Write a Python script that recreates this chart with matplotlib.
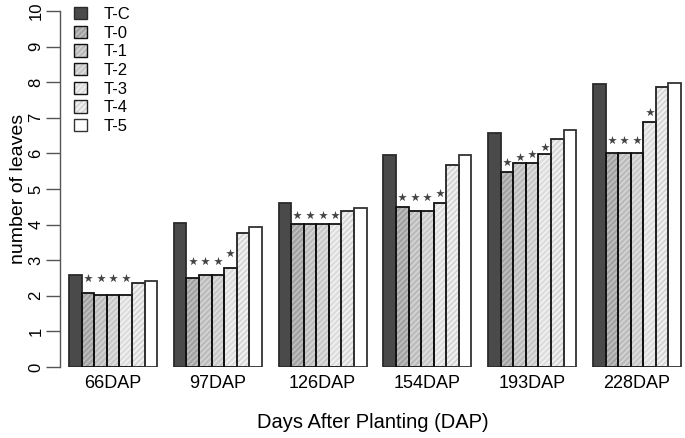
import matplotlib
matplotlib.use("Agg")
import matplotlib.pyplot as plt
from matplotlib.patches import Patch
from matplotlib.legend_handler import HandlerTuple
import numpy as np

plt.rcParams['font.family'] = ['Liberation Sans', 'DejaVu Sans']

groups = ["66DAP", "97DAP", "126DAP", "154DAP", "193DAP", "228DAP"]
treatments = ["T-C", "T-0", "T-1", "T-2", "T-3", "T-4", "T-5"]
t_c = [2.58, 4.05, 4.62, 5.96, 6.56, 7.96]
t_0 = [2.09, 2.50, 4.01, 4.49, 5.47, 6.00]
t_1 = [2.01, 2.59, 4.01, 4.38, 5.74, 6.00]
t_2 = [2.01, 2.59, 4.01, 4.38, 5.74, 6.00]
t_3 = [2.01, 2.78, 4.01, 4.61, 5.97, 6.89]
t_4 = [2.35, 3.77, 4.39, 5.68, 6.41, 7.87]
t_5 = [2.42, 3.94, 4.46, 5.95, 6.66, 7.99]
series = [t_c, t_0, t_1, t_2, t_3, t_4, t_5]

# significance stars above T-0..T-3 (heights)
star_levels = [
    [2.50, 2.50, 2.50, 2.50],
    [2.98, 2.98, 2.98, 3.20],
    [4.28, 4.28, 4.28, 4.28],
    [4.78, 4.78, 4.78, 4.88],
    [5.77, 5.90, 5.98, 6.19],
    [6.38, 6.38, 6.38, 7.17],
]

fills = ['#4a4a4a', '#a2a2a2', '#bcbcbc', '#c8c8c8', '#dddddd', '#efefef', '#ffffff']
hatch_cols = [None, '#c4c4c4', '#d8d8d8', '#e2e2e2', '#f4f4f4', '#cfcfcf', None]
edges = ['#2a2a2a', '#111111', '#111111', '#111111', '#111111', '#222222', '#333333']
HATCH = '//////'

fig = plt.figure(figsize=(6.85, 4.38), dpi=100)
ax = fig.add_axes([60/685, 1-367/438, 625/685, 356/438])

n = len(treatments)
gap = 1.33
period = n + gap
x0 = np.arange(len(groups)) * period

for i in range(n):
    xs = x0 + i + 0.5
    ax.bar(xs, series[i], width=1.0, color=fills[i], edgecolor='none', linewidth=0, zorder=1)
    if hatch_cols[i] is not None:
        ax.bar(xs, series[i], width=1.0, facecolor='none', edgecolor=hatch_cols[i],
               linewidth=0, hatch=HATCH, zorder=2)
    ax.bar(xs, series[i], width=1.0, facecolor='none', edgecolor=edges[i],
           linewidth=1.3, zorder=3)

for g in range(len(groups)):
    for k in range(4):
        ax.scatter(x0[g] + 1 + k + 0.5, star_levels[g][k], marker='*', s=42,
                   color='#444444', linewidths=0, zorder=4)

ax.set_xlim(x0[0] - 0.72, x0[-1] + n + 0.32)
ax.set_ylim(0, 10)

for s in ['top', 'right', 'bottom']:
    ax.spines[s].set_visible(False)
ax.spines['left'].set_bounds(0, 10)
ax.spines['left'].set_color('#555555')
ax.spines['left'].set_linewidth(1.0)

ax.set_yticks(range(0, 11))
ax.tick_params(axis='y', length=10, width=1.0, color='#555555', labelsize=12,
               pad=2, labelrotation=90)
for lab in ax.get_yticklabels():
    lab.set_va('center')
ax.set_xticks(x0 + n / 2)
ax.set_xticklabels(groups)
ax.tick_params(axis='x', length=0, labelsize=13, pad=6)

ax.set_ylabel("number of leaves", fontsize=14, labelpad=1)
ax.set_xlabel("Days After Planting (DAP)", fontsize=14.5, labelpad=15)

handles = []
for i in range(n):
    parts = [Patch(facecolor=fills[i], edgecolor='none', linewidth=0)]
    if hatch_cols[i] is not None:
        parts.append(Patch(facecolor='none', edgecolor=hatch_cols[i], linewidth=0, hatch=HATCH))
    parts.append(Patch(facecolor='none', edgecolor=edges[i], linewidth=1.0))
    handles.append(tuple(parts))
leg = ax.legend(handles, treatments, loc='upper left', bbox_to_anchor=(0.012, 1.03),
                frameon=False, fontsize=12, handlelength=0.75, handleheight=0.75,
                handletextpad=1.0, labelspacing=0.22, borderaxespad=0,
                handler_map={tuple: HandlerTuple(ndivide=1, pad=0)})

fig.savefig("out.png", dpi=100)
